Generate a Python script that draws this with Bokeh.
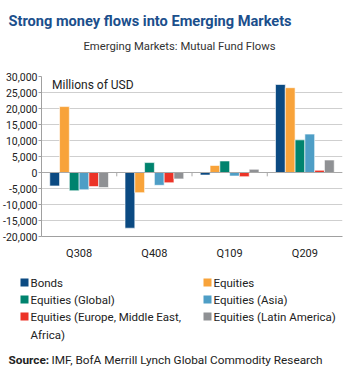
from bokeh.plotting import figure
from bokeh.layouts import column
from bokeh.models import (Range1d, FactorRange, FixedTicker, Span, Label,
                          ColumnDataSource, NumeralTickFormatter)
from bokeh.transform import dodge
from bokeh.core.properties import value
from bokeh.embed import file_html
from bokeh.resources import INLINE

# ---------------- data ----------------
quarters = ["Q308", "Q408", "Q109", "Q209"]
series = ["Bonds", "Equities", "Equities (Global)", "Equities (Asia)",
          "Equities (Europe, Middle East,\nAfrica)", "Equities (Latin America)"]
bonds = [-4200, -17400, -800, 27500]
equities = [20600, -6300, 2200, 26500]
eq_global = [-5700, 3100, 3600, 10200]
eq_asia = [-5400, -4000, -1100, 12000]
eq_emea = [-4400, -3200, -1300, 700]
eq_latam = [-4700, -2000, 1000, 3900]
y_ticks = [-20000, -15000, -10000, -5000, 0, 5000, 10000, 15000, 20000, 25000, 30000]

title_text = "Strong money flows into Emerging Markets"
subtitle_text = "Emerging Markets: Mutual Fund Flows"
unit_text = "Millions of USD"
source_bold = "Source:"
source_text = "IMF, BofA Merrill Lynch Global Commodity Research"

colors = ["#0b4a82", "#f8a33a", "#00836e", "#4e9ec6", "#ec3327", "#8f9194"]
FONT = "Roboto"
TXT = "#222222"
W = 344


def blank(h):
    f = figure(width=W, height=h, x_range=Range1d(0, W), y_range=Range1d(h, 0),
               output_backend="svg", toolbar_location=None, min_border=0,
               frame_align=False)
    f.axis.visible = False
    f.grid.visible = False
    f.outline_line_color = None
    return f


# ---------------- header ----------------
head = blank(68)
head.text(x=[8], y=[20], text=[title_text], text_font=value(FONT),
          text_font_style="bold", text_font_size="14.6px", text_color="#1b4f8c",
          text_baseline="middle", text_align="left")
head.text(x=[179], y=[46], text=[subtitle_text], text_font=value(FONT),
          text_font_size="11.3px", text_color="#333333",
          text_baseline="middle", text_align="center")

# ---------------- chart ----------------
cols = [bonds, equities, eq_global, eq_asia, eq_emea, eq_latam]
keys = ["s%d" % i for i in range(len(cols))]
data = {"quarter": quarters}
for k, c in zip(keys, cols):
    data[k] = c
src = ColumnDataSource(data)

p = figure(width=W, height=194, x_range=FactorRange(*quarters),
           y_range=Range1d(y_ticks[0], y_ticks[-1]),
           output_backend="svg", toolbar_location=None, frame_align=False,
           min_border_top=8, min_border_bottom=20, min_border_left=35,
           min_border_right=2)
p.outline_line_color = None
p.xgrid.visible = False
p.ygrid.grid_line_color = "#cfcfcf"
p.ygrid.ticker = FixedTicker(ticks=y_ticks)

bw = 0.13
n = len(cols)
for i, (k, c) in enumerate(zip(keys, colors)):
    off = (i - (n - 1) / 2) * bw
    p.vbar(x=dodge("quarter", off, range=p.x_range), top=k, bottom=0, width=bw,
           source=src, fill_color=c, line_color="white", line_width=0.6)

p.add_layout(Span(location=0, dimension="width", line_color="#a8a8a8", line_width=1))
bsrc = ColumnDataSource({"quarter": quarters[:-1]})
p.segment(x0=dodge("quarter", 0.5, range=p.x_range), y0=0,
          x1=dodge("quarter", 0.5, range=p.x_range), y1=-1200,
          source=bsrc, line_color="#a8a8a8", line_width=1)

p.yaxis.ticker = FixedTicker(ticks=y_ticks)
p.yaxis.formatter = NumeralTickFormatter(format="0,0")
p.yaxis.minor_tick_line_color = None
p.yaxis.major_tick_in = 0
p.yaxis.major_tick_out = 3
p.yaxis.major_tick_line_color = "#a0a0a0"
p.yaxis.axis_line_color = "#a0a0a0"
p.yaxis.major_label_standoff = 1
p.yaxis.major_label_text_font = FONT
p.yaxis.major_label_text_font_size = "10.5px"
p.yaxis.major_label_text_color = TXT

p.xaxis.major_tick_line_color = None
p.xaxis.axis_line_color = "#a0a0a0"
p.xaxis.major_label_standoff = 4
p.xaxis.major_label_text_font = FONT
p.xaxis.major_label_text_font_size = "11px"
p.xaxis.major_label_text_color = TXT

p.add_layout(Label(x=0.14, y=27500, text=unit_text, text_font=FONT,
                   text_font_size="12px", text_color=TXT,
                   text_baseline="middle"))

# ---------------- footer (legend + source) ----------------
foot = blank(107)
col_x = [20, 203]
row_y = [20, 37, 54]
sq_x, sq_y, tx, ty = [], [], [], []
for i in range(len(series)):
    cx = col_x[i % 2]
    cy = row_y[i // 2]
    sq_x.append(cx + 4)
    sq_y.append(cy)
    tx.append(cx + 10)
    ty.append(cy - 7)
foot.scatter(x=sq_x, y=sq_y, marker="square", size=8, fill_color=colors,
             line_color=None)
foot.text(x=tx, y=ty, text=series, text_font=value(FONT), text_font_size="11.5px",
          text_color=TXT, text_baseline="top", text_align="left",
          text_line_height=1.3)
foot.text(x=[8], y=[97], text=[source_bold], text_font=value(FONT),
          text_font_style="bold", text_font_size="11.8px", text_color=TXT,
          text_baseline="middle")
foot.text(x=[51], y=[97], text=[source_text], text_font=value(FONT),
          text_font_size="11.8px", text_color=TXT, text_baseline="middle")

layout = column(head, p, foot, spacing=0)
open("out.html", "w").write(file_html(layout, INLINE))
